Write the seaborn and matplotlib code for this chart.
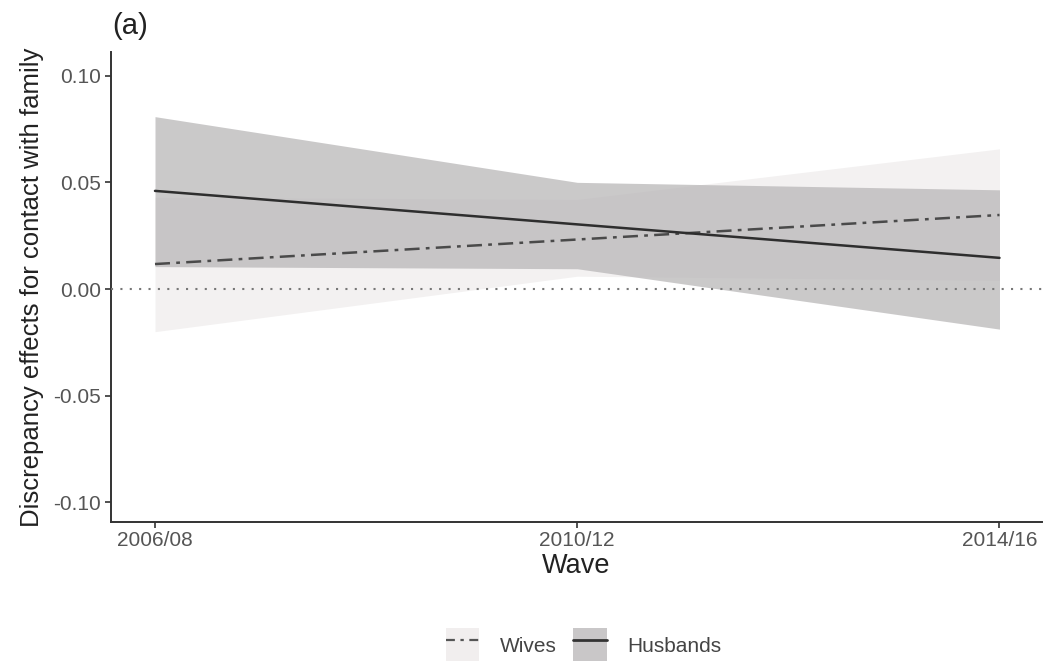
import numpy as np
import pandas as pd
import seaborn as sns
import matplotlib.pyplot as plt
from matplotlib.patches import Patch
from matplotlib.lines import Line2D

waves = ["2006/08", "2010/12", "2014/16"]

wives_est = [0.0117, 0.0232, 0.0347]
wives_lo = [-0.0200, 0.0060, 0.0040]
wives_hi = [0.0430, 0.0420, 0.0657]

husbands_est = [0.0460, 0.0303, 0.0146]
husbands_lo = [0.0105, 0.0095, -0.0188]
husbands_hi = [0.0808, 0.0500, 0.0465]

groups = ["Wives", "Husbands"]

sns.set_theme(style="ticks")
plt.rcParams["font.family"] = ["Liberation Sans", "DejaVu Sans"]

df = pd.DataFrame({
    "wave": list(range(len(waves))) * 2,
    "effect": wives_est + husbands_est,
    "group": ["Wives"] * 3 + ["Husbands"] * 3,
})

fig = plt.figure(figsize=(10.48, 6.61), dpi=100)
ax = fig.add_axes([0.106, 0.211, 0.888, 0.71])

x = np.arange(len(waves))
# confidence bands
ax.fill_between(x, wives_lo, wives_hi, color="#ebe8e8", alpha=0.6, lw=0, zorder=1)
ax.fill_between(x, husbands_lo, husbands_hi, color="#b9b7b8", alpha=0.75, lw=0, zorder=2)

# reference line at zero
ax.axhline(0, color="#777777", lw=1.5, ls=(0, (1, 3.5)), zorder=3)

sns.lineplot(data=df, x="wave", y="effect", style="group", style_order=groups,
             dashes={"Wives": (6, 2.5, 1.5, 2.5), "Husbands": ""},
             hue="group", hue_order=groups,
             palette={"Wives": "#4a4a4a", "Husbands": "#2e2e2e"},
             linewidth=1.8, legend=False, ax=ax, zorder=4)

ax.set_xlim(-0.104, 2.1)
ax.set_ylim(-0.109, 0.111)
ax.set_xticks(x)
ax.set_xticklabels(waves)
ax.set_yticks([-0.10, -0.05, 0.0, 0.05, 0.10])
ax.set_yticklabels(["-0.10", "-0.05", "0.00", "0.05", "0.10"])
ax.tick_params(axis="both", colors="#333333", labelcolor="#555555",
               labelsize=15, length=4, width=1.2, pad=3)
for side in ["top", "right"]:
    ax.spines[side].set_visible(False)
for side in ["left", "bottom"]:
    ax.spines[side].set_color("#333333")
    ax.spines[side].set_linewidth(1.4)

ax.set_xlabel("Wave", fontsize=19.5, color="#222222", labelpad=2)
ax.set_ylabel("Discrepancy effects for contact with family", fontsize=18.5,
              color="#222222", labelpad=7)

fig.text(0.107, 0.94, "(a)", fontsize=21, color="#222222", ha="left", va="bottom")

handles = [
    (Patch(facecolor="#f1eeee", edgecolor="none"),
     Line2D([], [], color="#555555", lw=1.6, dashes=(4, 2.5, 1.5, 2.5))),
    (Patch(facecolor="#c9c7c8", edgecolor="none"),
     Line2D([], [], color="#333333", lw=2.0)),
]
fig.legend(handles, groups, loc="center", bbox_to_anchor=(0.557, 0.024), ncol=2,
           frameon=False, fontsize=15, handlelength=1.6, handleheight=2.2,
           columnspacing=0.8, handletextpad=1.0, labelcolor="#444444",
           borderpad=0.0, borderaxespad=0.0)

fig.savefig("out.png", dpi=100)
